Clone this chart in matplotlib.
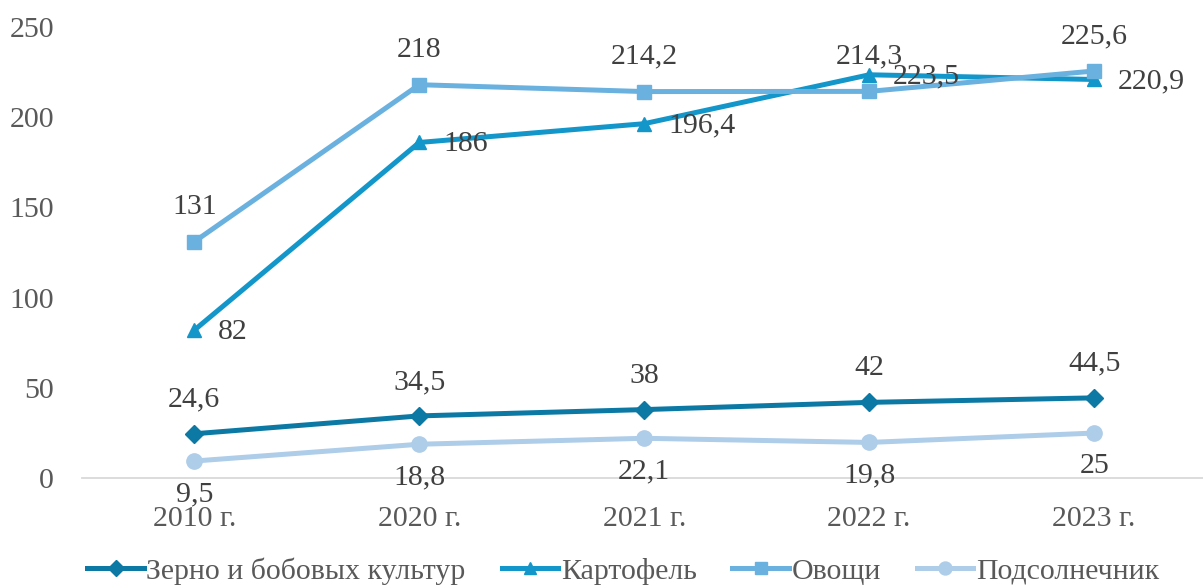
import matplotlib
matplotlib.use('Agg')
import matplotlib.pyplot as plt

plt.rcParams['font.family'] = ['Liberation Serif', 'DejaVu Serif']

years = ['2010 г.', '2020 г.', '2021 г.', '2022 г.', '2023 г.']
zerno = [24.6, 34.5, 38, 42, 44.5]
kartofel = [82, 186, 196.4, 223.5, 220.9]
ovoshchi = [131, 218, 214.2, 214.3, 225.6]
podsolnechnik = [9.5, 18.8, 22.1, 19.8, 25]
names = ['Зерно и бобовых культур', 'Картофель', 'Овощи', 'Подсолнечник']

def fmt(v):
    s = ('%g' % v)
    return s.replace('.', ',')

fig = plt.figure(figsize=(12.03, 5.86), dpi=100)
ax = fig.add_axes([0.068, 0.184, 0.935, 0.770])

x = list(range(len(years)))
series = [
    (zerno, names[0], '#0C79A5', 'D', 9, (0, 34)),
    (kartofel, names[1], '#1396C9', '^', 10, (24, -2)),
    (ovoshchi, names[2], '#6BB1DF', 's', 10, (0, 35)),
    (podsolnechnik, names[3], '#AECDE9', 'o', 11, (0, -33)),
]
for vals, name, col, mk, ms, off in series:
    ax.plot(x, vals, color=col, lw=3.6, marker=mk, markersize=ms, label=name, zorder=3)
    for xi, v in zip(x, vals):
        ax.annotate(fmt(v), (xi, v), xytext=off, textcoords='offset pixels',
                    ha='left' if off[0] > 0 else 'center', va='center',
                    fontsize=21.5, color='#404040', zorder=4)

ax.set_xlim(-0.5, 4.5)
ax.set_ylim(0, 250)
ax.set_yticks([0, 50, 100, 150, 200, 250])
ax.set_xticks(x)
ax.set_xticklabels(years)
ax.tick_params(axis='both', length=0, labelsize=21.5, colors='#595959')
ax.tick_params(axis='y', pad=20)
ax.tick_params(axis='x', pad=20)
for s in ['top', 'right', 'left']:
    ax.spines[s].set_visible(False)
ax.spines['bottom'].set_color('#D9D9D9')
ax.spines['bottom'].set_linewidth(1.3)

leg = fig.legend(loc='center', bbox_to_anchor=(0.518, 0.026), ncol=4, frameon=False,
                 fontsize=21.5, handlelength=1.9, handletextpad=0.08, columnspacing=1.2,
                 labelcolor='#595959', borderaxespad=0, markerscale=0.85)

fig.savefig('out.png', dpi=100)
